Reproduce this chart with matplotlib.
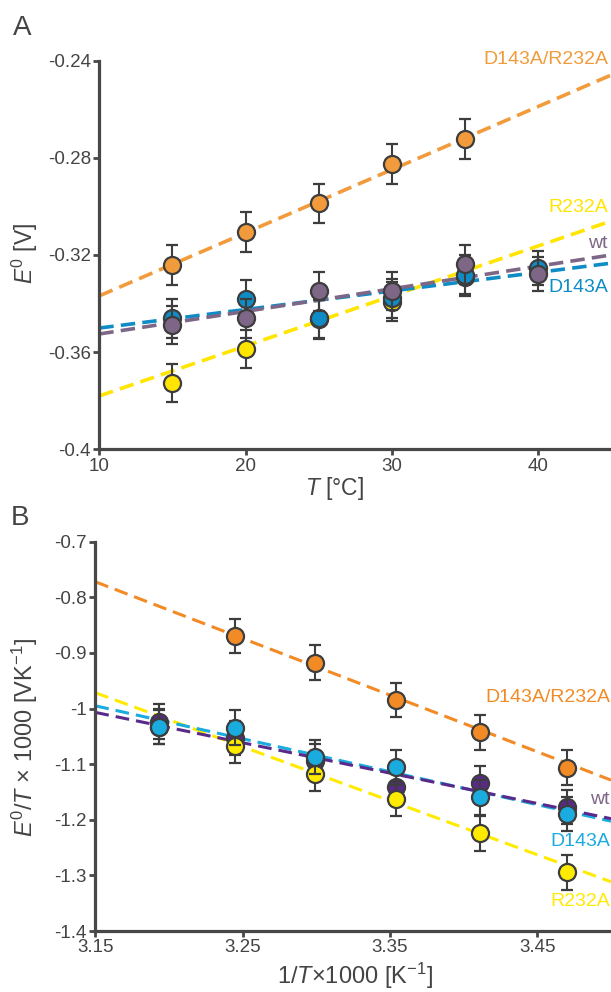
import matplotlib
matplotlib.use("Agg")
import matplotlib.pyplot as plt
import numpy as np

plt.rcParams['font.family'] = ['Liberation Sans', 'DejaVu Sans']
plt.rcParams['mathtext.fontset'] = 'custom'
plt.rcParams['mathtext.rm'] = 'Liberation Sans'
plt.rcParams['mathtext.it'] = 'Liberation Sans:italic'

# ---------------- Panel A data: E0 vs T ----------------
T_C = [15, 20, 25, 30, 35, 40]
A_orange_T = [15, 20, 25, 30, 35]
A_orange = [-0.3241, -0.3106, -0.2987, -0.2826, -0.2722]
A_orange_err = [0.0081, 0.0081, 0.0081, 0.0081, 0.0081]
A_yellow_T = [15, 20, 25, 30, 35]
A_yellow = [-0.3728, -0.3588, -0.3465, -0.3392, -0.3290]
A_yellow_err = [0.0079, 0.0079, 0.0079, 0.0079, 0.0079]
A_blue = [-0.3460, -0.3381, -0.3460, -0.3378, -0.3282, -0.3254]
A_blue_err = [0.0080, 0.0080, 0.0080, 0.0080, 0.0080, 0.0070]
A_purple = [-0.3488, -0.3460, -0.3350, -0.3348, -0.3238, -0.3279]
A_purple_err = [0.0080, 0.0080, 0.0080, 0.0080, 0.0080, 0.0070]
# linear fits (intercept, slope)
A_fit_orange = (-0.3628, 0.002597)
A_fit_yellow = (-0.3986, 0.002057)
A_fit_blue = (-0.3577, 0.000763)
A_fit_purple = (-0.3618, 0.000929)

# ---------------- Panel B data: E0/T*1000 vs 1/T*1000 ----------------
invT = [3.193, 3.245, 3.299, 3.354, 3.411, 3.470]
B_orange_x = [3.245, 3.299, 3.354, 3.411, 3.470]
B_orange = [-0.8696, -0.9176, -0.9847, -1.0428, -1.1064]
B_yellow = [-1.0330, -1.0675, -1.1178, -1.1628, -1.2245, -1.2946]
B_blue = [-1.0327, -1.0345, -1.0867, -1.1058, -1.1597, -1.1897]
B_purple = [-1.0237, -1.0530, -1.0950, -1.1406, -1.1346, -1.1766]
B_err = [0.031, 0.031, 0.031, 0.031, 0.031, 0.031]
B_fit_orange = (2.4375, -1.0189)
B_fit_yellow = (2.0874, -0.9711)
B_fit_blue = (0.8716, -0.5926)
B_fit_purple = (0.7130, -0.5460)

A_xticks = [10, 20, 30, 40]
A_yticks = [-0.4, -0.36, -0.32, -0.28, -0.24]
A_yticklabels = ['-0.4', '-0.36', '-0.32', '-0.28', '-0.24']
B_xticks = [3.15, 3.25, 3.35, 3.45]
B_yticks = [-1.4, -1.3, -1.2, -1.1, -1.0, -0.9, -0.8, -0.7]
B_yticklabels = ['-1.4', '-1.3', '-1.2', '-1.1', '-1', '-0.9', '-0.8', '-0.7']

W, H = 611, 992
fig = plt.figure(figsize=(W / 100, H / 100), dpi=100)

AX_COL = '#474747'
TXT_COL = '#444444'
EDGE = '#3d3d3d'


def style(ax):
    for s in ['top', 'right']:
        ax.spines[s].set_visible(False)
    for s in ['left', 'bottom']:
        ax.spines[s].set_color(AX_COL)
        ax.spines[s].set_linewidth(2.3)
    ax.tick_params(axis='both', direction='out', length=4, width=2.0,
                   color=AX_COL, labelcolor=TXT_COL, labelsize=13.5, pad=2)


def series(ax, x, y, err, color, z):
    ax.errorbar(x, y, yerr=err, fmt='o', ms=12.3, mfc=color, mec=EDGE, mew=1.6,
                ecolor=EDGE, elinewidth=1.5, capsize=4.5, capthick=1.5,
                zorder=z, clip_on=False)


def fitline(ax, fit, xlim, color, lw, dashes, z):
    xs = np.array(xlim)
    ax.plot(xs, fit[0] + fit[1] * xs, color=color, lw=lw, dashes=dashes,
            zorder=z, solid_capstyle='butt', dash_capstyle='butt')


# ---------------- Panel A ----------------
axA = fig.add_axes([99.3 / W, (H - 449.3) / H, 1 - 99.3 / W, (449.3 - 60.7) / H])
style(axA)
xlimA = (10, 45)
axA.set_xlim(*xlimA)
axA.set_ylim(-0.4, -0.24)
axA.set_xticks(A_xticks)
axA.set_yticks(A_yticks)
axA.set_yticklabels(A_yticklabels)

cA_orange = '#f19b3c'
cA_yellow = '#ffe500'
cA_blue = '#0f8cc6'
cA_purple = '#7e6686'

fitline(axA, A_fit_orange, xlimA, cA_orange, 2.6, (4, 2), 2)
fitline(axA, A_fit_yellow, xlimA, cA_yellow, 2.6, (4, 2), 2)
fitline(axA, A_fit_blue, xlimA, cA_blue, 2.6, (4, 2), 2)
fitline(axA, A_fit_purple, xlimA, cA_purple, 2.6, (4, 2), 2)

series(axA, A_yellow_T, A_yellow, A_yellow_err, cA_yellow, 3)
series(axA, A_orange_T, A_orange, A_orange_err, cA_orange, 4)
series(axA, T_C, A_blue, A_blue_err, cA_blue, 5)
series(axA, T_C, A_purple, A_purple_err, cA_purple, 6)

lab_kw = dict(transform=fig.transFigure, ha='right', va='center', fontsize=14)
fig.text(608 / W, 1 - 60 / H, 'D143A/R232A', color=cA_orange, **lab_kw)
fig.text(608 / W, 1 - 207 / H, 'R232A', color=cA_yellow, **lab_kw)
fig.text(608 / W, 1 - 243 / H, 'wt', color=cA_purple, **lab_kw)
fig.text(608 / W, 1 - 287 / H, 'D143A', color=cA_blue, **lab_kw)

fig.text(25 / W, 1 - 253 / H, r'$\mathit{E}^{\mathrm{0}}$ [V]', rotation=90,
         ha='center', va='center', fontsize=16.5, color=TXT_COL)
fig.text(335 / W, 1 - 489 / H, r'$\mathit{T}$ [°C]', ha='center', va='center',
         fontsize=16.5, color=TXT_COL)
fig.text(22 / W, 1 - 28 / H, 'A', ha='center', va='center', fontsize=20, color=TXT_COL)

# ---------------- Panel B ----------------
axB = fig.add_axes([95.3 / W, (H - 931) / H, 1 - 95.3 / W, (931 - 541.7) / H])
style(axB)
xlimB = (3.15, 3.5)
axB.set_xlim(*xlimB)
axB.set_ylim(-1.4, -0.7)
axB.set_xticks(B_xticks)
axB.set_xticklabels([f'{v:.2f}' for v in B_xticks])
axB.set_yticks(B_yticks)
axB.set_yticklabels(B_yticklabels)

cB_orange = '#f28a25'
cB_yellow = '#ffeb00'
cB_blue = '#1aabdf'
cB_purple = '#5a2a8a'

fitline(axB, B_fit_orange, xlimB, cB_orange, 2.2, (4.5, 2.3), 2)
fitline(axB, B_fit_yellow, xlimB, cB_yellow, 2.2, (4.5, 2.3), 2)
fitline(axB, B_fit_blue, xlimB, cB_blue, 2.2, (4.5, 2.3), 2)
fitline(axB, B_fit_purple, xlimB, cB_purple, 2.2, (4.5, 2.3), 2)

series(axB, invT, B_purple, B_err, cB_purple, 3)
series(axB, invT, B_yellow, B_err, cB_yellow, 4)
series(axB, invT, B_blue, B_err, cB_blue, 5)
series(axB, B_orange_x, B_orange, B_err[:5], cB_orange, 6)

lab_kw2 = dict(transform=fig.transFigure, ha='right', va='center', fontsize=14)
fig.text(610 / W, 1 - 698 / H, 'D143A/R232A', color=cB_orange, **lab_kw2)
fig.text(610 / W, 1 - 800 / H, 'wt', color='#7e6686', **lab_kw2)
fig.text(610 / W, 1 - 842 / H, 'D143A', color=cB_blue, **lab_kw2)
fig.text(610 / W, 1 - 902 / H, 'R232A', color=cB_yellow, **lab_kw2)

fig.text(25 / W, 1 - 738 / H, r'$\mathit{E}^{\mathrm{0}}/\mathit{T}$ × 1000 [VK$^{\mathrm{-1}}$]',
         rotation=90, ha='center', va='center', fontsize=17, color=TXT_COL)
fig.text(355 / W, 1 - 976 / H, r'1/$\mathit{T}$×1000 [K$^{\mathrm{-1}}$]', ha='center',
         va='center', fontsize=17, color=TXT_COL)
fig.text(20 / W, 1 - 518 / H, 'B', ha='center', va='center', fontsize=20, color=TXT_COL)

fig.savefig('out.png', dpi=100)
